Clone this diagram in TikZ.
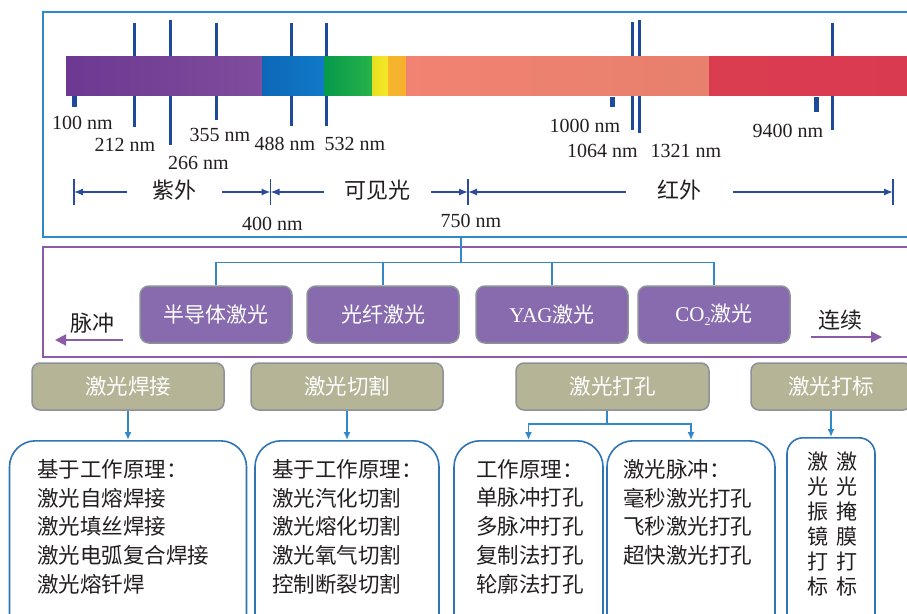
\documentclass[tikz,border=0pt]{standalone}
\usepackage{fontspec}
\setmainfont{Liberation Serif}
\newfontfamily\cjk{Noto Sans CJK SC}
\usetikzlibrary{arrows.meta}
\definecolor{tickc}{HTML}{1E4A9C}
\definecolor{dimc}{HTML}{2A4A9E}
\definecolor{topfr}{HTML}{2E8BC9}
\definecolor{purfr}{HTML}{8E5BA8}
\definecolor{pfill}{HTML}{876BAE}
\definecolor{ofill}{HTML}{B5B496}
\definecolor{boxbd}{HTML}{8C9298}
\definecolor{linkc}{HTML}{3388CC}
\definecolor{bbc}{HTML}{2F74B5}
\definecolor{txt}{HTML}{231F20}
\definecolor{parr}{HTML}{8A5BA6}
\definecolor{sA}{HTML}{6C3892}\definecolor{sB}{HTML}{804C9C}
\definecolor{sC}{HTML}{0D67B8}\definecolor{sD}{HTML}{1079C8}
\definecolor{sE}{HTML}{05994A}\definecolor{sF}{HTML}{27B24A}
\definecolor{sG}{HTML}{E6E020}\definecolor{sH}{HTML}{F8E82A}
\definecolor{sI}{HTML}{F6B52C}\definecolor{sJ}{HTML}{F6B030}
\definecolor{sK}{HTML}{F28272}\definecolor{sL}{HTML}{E7806D}
\definecolor{sM}{HTML}{DA3C50}\definecolor{sN}{HTML}{DA3A50}
\begin{document}
\begin{tikzpicture}[x=1pt,y=-1pt,
  tick/.style={draw=tickc, line width=3pt},
  nmlbl/.style={font=\fontsize{20}{24}\selectfont, inner sep=0pt, text=txt},
  dimlbl/.style={font=\fontsize{22}{24}\selectfont\cjk, inner sep=0pt, text=txt},
  dimline/.style={draw=dimc, line width=1.3pt, -{Latex[length=9pt,width=7pt]}},
  dimbar/.style={draw=dimc, line width=1.5pt},
  pbox/.style={draw=boxbd, line width=1.5pt, fill=pfill, rounded corners=9pt, minimum width=152pt, minimum height=57pt, text=white, font=\fontsize{21}{24}\selectfont, inner sep=0pt},
  obox/.style={draw=boxbd, line width=1.5pt, fill=ofill, rounded corners=8pt, minimum height=47pt, text=white, font=\fontsize{21.5}{24}\selectfont\cjk, inner sep=0pt},
  link/.style={draw=linkc, line width=1.6pt},
  larrow/.style={draw=linkc, line width=1.6pt, -{Latex[length=8pt,width=7pt]}},
  bbox/.style={draw=bbc, line width=1.6pt, rounded corners=26pt, minimum height=230pt, anchor=north, inner sep=0pt},
  btext/.style={font=\fontsize{21.5}{28.75}\selectfont\cjk, text=txt, align=left, anchor=north west, inner sep=0pt},
  vtext/.style={font=\fontsize{21}{25}\selectfont\cjk, text=txt, align=center, anchor=north, inner sep=0pt},
  parrow/.style={draw=parr, line width=2pt, -{Triangle[length=11pt,width=11pt]}}
]
\clip (0,0) rectangle (907,613);
\fill[white] (0,0) rectangle (907,613);

% top frame
\draw[topfr, line width=2pt] (43,12) rectangle (930,237);

% ticks (behind bar)
\draw[tick] (134,23) -- (134,127);
\draw[tick] (170,20) -- (170,145);
\draw[tick] (216,23) -- (216,120);
\draw[tick] (291,23) -- (291,126);
\draw[tick] (326,23) -- (326,126);
\draw[tick] (632,22) -- (632,130);
\draw[tick] (639,20) -- (639,133);
\draw[tick] (832,23) -- (832,130);
\fill[tickc] (72,95) rectangle (77,107);
\fill[tickc] (610,97) rectangle (615,107);
\fill[tickc] (814,97) rectangle (819,112);

% spectrum bar
\shade[left color=sA, right color=sB] (66,56) rectangle (262.5,95);
\shade[left color=sC, right color=sD] (262,56) rectangle (324.5,95);
\shade[left color=sE, right color=sF] (324,56) rectangle (372.5,95);
\shade[left color=sG, right color=sH] (372,56) rectangle (388.5,95);
\shade[left color=sI, right color=sJ] (388,56) rectangle (406.5,95);
\shade[left color=sK, right color=sL] (406,56) rectangle (709.5,95);
\shade[left color=sM, right color=sN] (709,56) rectangle (930,95);

% wavelength labels
\node[nmlbl] (l100) at (82.5,123) {100 nm};
\node[nmlbl] (l212) at (125,145) {212 nm};
\node[nmlbl] (l266) at (198.5,162.5) {266 nm};
\node[nmlbl] (l355) at (220,135) {355 nm};
\node[nmlbl] (l488) at (285,143.5) {488 nm};
\node[nmlbl] (l532) at (355,143.5) {532 nm};
\node[nmlbl] (l1000) at (585,125.5) {1000 nm};
\node[nmlbl] (l1064) at (602.5,151) {1064 nm};
\node[nmlbl] (l1321) at (686,151) {1321 nm};
\node[nmlbl] (l9400) at (788,131) {9400 nm};
\node[nmlbl] (l400) at (272.5,224) {400 nm};
\node[nmlbl] (l750) at (471,220.5) {750 nm};

% dimension bars
\coordinate (d0) at (74,192);
\coordinate (d1) at (270.5,192);
\coordinate (d2) at (468,192);
\coordinate (d3) at (893,192);
\foreach \p in {d0,d1,d2,d3} \draw[dimbar] ([yshift=-13pt]\p) -- ([yshift=13pt]\p);
\node[dimlbl, minimum width=95pt] (uv) at (174.5,190) {紫外};
\node[dimlbl, minimum width=107pt] (vis) at (377.5,190) {可见光};
\node[dimlbl, minimum width=107pt] (ir) at (679.5,190) {红外};
\draw[dimline] (uv.west |- d0) -- (d0);
\draw[dimline] (uv.east |- d0) -- (d1);
\draw[dimline] (vis.west |- d0) -- (d1);
\draw[dimline] (vis.east |- d0) -- (d2);
\draw[dimline] (ir.west |- d0) -- (d2);
\draw[dimline] (ir.east |- d0) -- (d3);

% purple frame
\draw[purfr, line width=2pt] (43,247) rectangle (930,357);

% laser types
\node[pbox] (p1) at (216,314.5) {\cjk 半导体激光};
\node[pbox] (p2) at (383,314.5) {\cjk 光纤激光};
\node[pbox] (p3) at (552,314.5) {YAG{\cjk 激光}};
\node[pbox] (p4) at (714,314.5) {CO\raisebox{-0.35ex}{\fontsize{12}{12}\selectfont 2}{\cjk 激光}};
\coordinate (t0) at (461,237);
\coordinate (t1) at (461,262.5);
\draw[link] (t0) -- (t1);
\draw[link] (p1.north) |- (t1) -| (p4.north);
\draw[link] (p2.north) -- (p2.north |- t1);
\draw[link] (p3.north) -- (p3.north |- t1);

% pulse / continuous
\node[dimlbl] (mc) at (92,323) {脉冲};
\node[dimlbl] (lx) at (840,320) {连续};
\coordinate (pa0) at (123,340);
\coordinate (pa1) at (55,340);
\coordinate (ca0) at (811,337);
\coordinate (ca1) at (882,337);
\draw[parrow] (pa0) -- (pa1);
\draw[parrow] (ca0) -- (ca1);

% applications
\node[obox, minimum width=192pt] (oA) at (128,386.5) {激光焊接};
\node[obox, minimum width=192pt] (oB) at (347,386.5) {激光切割};
\node[obox, minimum width=193pt] (oC) at (612.5,386.5) {激光打孔};
\node[obox, minimum width=160pt] (oD) at (831,386.5) {激光打标};

% bottom boxes
\node[bbox, minimum width=237pt] (b1) at (128,440) {};
\node[bbox, minimum width=184pt] (b2) at (347,440) {};
\node[bbox, minimum width=149pt] (b3) at (528.5,440) {};
\node[bbox, minimum width=168pt] (b4) at (691,440) {};
\node[bbox, minimum width=88pt, rounded corners=16pt] (b5) at (831,437) {};

\draw[larrow] (oA.south) -- (b1.north);
\draw[larrow] (oB.south) -- (b2.north);
\coordinate (cj) at (607,424);
\draw[link] (cj |- oC.south) -- (cj);
\draw[larrow] (cj) -| (b3.north);
\draw[larrow] (cj) -| (b4.north);
\draw[larrow] (oD.south) -- (b5.north);

\node[btext] (tx1) at (37,459) {基于工作原理：\\激光自熔焊接\\激光填丝焊接\\激光电弧复合焊接\\激光熔钎焊};
\node[btext] (tx2) at (272,459) {基于工作原理：\\激光汽化切割\\激光熔化切割\\激光氧气切割\\控制断裂切割};
\node[btext] (tx3) at (476,459) {工作原理：\\单脉冲打孔\\多脉冲打孔\\复制法打孔\\轮廓法打孔};
\node[btext] (tx4) at (623,459) {激光脉冲：\\毫秒激光打孔\\飞秒激光打孔\\超快激光打孔};
\node[vtext] (tx5) at (818,452) {激\\光\\振\\镜\\打\\标};
\node[vtext] (tx6) at (847,452) {激\\光\\掩\\膜\\打\\标};
\end{tikzpicture}
\end{document}
